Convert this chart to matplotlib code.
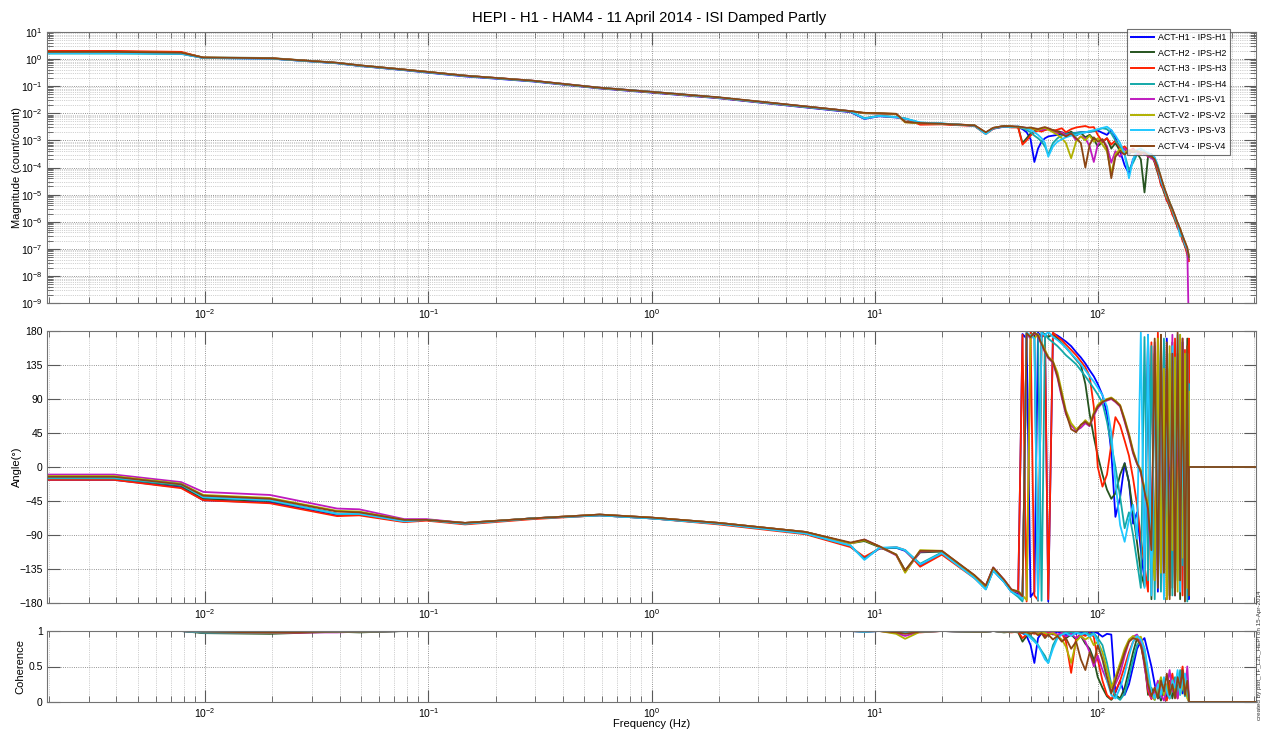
import matplotlib
matplotlib.use("Agg")
import matplotlib.pyplot as plt
from matplotlib.ticker import LogLocator, NullFormatter

plt.rcParams['font.family'] = ['Liberation Sans', 'DejaVu Sans']

# frequency grids (Hz)
freq_lo = [0.00195, 0.0039, 0.0078, 0.0098, 0.0195, 0.039, 0.049, 0.078, 0.098, 0.146,
           0.293, 0.586, 1.0, 2.0, 4.9, 7.8, 9.0, 10.5, 12.5, 13.7,
           16.0, 20.0, 28.0, 31.5, 34.0, 38.0, 41.0]
freq_hi = [44, 46, 48, 50, 52, 54, 56, 58, 60, 63, 66, 69, 72, 76, 80, 84, 88, 92, 96, 100,
           105, 110, 115, 120, 126, 132, 138, 144, 150, 156, 162, 168, 174, 180, 186, 192,
           198, 204, 210, 216, 222, 228, 234, 240, 246, 252, 256]
freq_tail = [256.5, 512]
phase_tail = [0, 0]
coh_tail = [0, 0]

labels = ["ACT-H1 - IPS-H1", "ACT-H2 - IPS-H2", "ACT-H3 - IPS-H3", "ACT-H4 - IPS-H4",
          "ACT-V1 - IPS-V1", "ACT-V2 - IPS-V2", "ACT-V3 - IPS-V3", "ACT-V4 - IPS-V4"]
colors = ['#0000ff', '#26541f', '#ff2000', '#13a8a8', '#bf1abf', '#b0b000', '#20c8ff', '#8b4513']

# ---- magnitude (count/count)
mag_h1_lo = [1.7, 1.7, 1.6, 1.1, 1.05, 0.70, 0.56, 0.39, 0.32, 0.23, 0.15, 0.083, 0.058, 0.036,
             0.0165, 0.011, 0.0062, 0.0078, 0.0070, 0.0063, 0.0044, 0.0041, 0.0035, 0.0018, 0.0027, 0.0032, 0.0031]
mag_h2_lo = [1.9, 1.9, 1.75, 1.15, 1.1, 0.73, 0.59, 0.41, 0.34, 0.245, 0.158, 0.087, 0.061, 0.038,
             0.0178, 0.012, 0.0100, 0.0098, 0.0092, 0.0050, 0.0042, 0.0040, 0.0036, 0.0019, 0.0028, 0.0034, 0.0033]
mag_h3_lo = [2.0, 2.0, 1.85, 1.12, 1.08, 0.72, 0.57, 0.40, 0.33, 0.24, 0.155, 0.085, 0.060, 0.037,
             0.017, 0.0115, 0.0065, 0.0080, 0.0072, 0.0064, 0.0038, 0.0039, 0.0034, 0.0017, 0.0027, 0.0033, 0.0030]
mag_h4_lo = [1.6, 1.6, 1.55, 1.1, 1.05, 0.71, 0.57, 0.40, 0.33, 0.24, 0.156, 0.086, 0.061, 0.038,
             0.0172, 0.0116, 0.0066, 0.0081, 0.0073, 0.0065, 0.0045, 0.0042, 0.0035, 0.0018, 0.0028, 0.0033, 0.0031]
mag_v1_lo = [1.75, 1.75, 1.65, 1.12, 1.06, 0.72, 0.58, 0.41, 0.34, 0.245, 0.16, 0.088, 0.062, 0.038,
             0.0178, 0.012, 0.0102, 0.0099, 0.0094, 0.0047, 0.0043, 0.0041, 0.0036, 0.0019, 0.0029, 0.0034, 0.0033]
mag_v2_lo = [1.8, 1.8, 1.7, 1.13, 1.07, 0.72, 0.58, 0.41, 0.34, 0.245, 0.158, 0.087, 0.061, 0.038,
             0.0176, 0.0119, 0.0103, 0.0100, 0.0095, 0.0046, 0.0043, 0.0041, 0.0036, 0.0019, 0.0029, 0.0034, 0.0033]
mag_v3_lo = [1.65, 1.65, 1.6, 1.1, 1.05, 0.71, 0.57, 0.40, 0.33, 0.24, 0.156, 0.087, 0.062, 0.038,
             0.0174, 0.0117, 0.0064, 0.0080, 0.0072, 0.0064, 0.0046, 0.0042, 0.0035, 0.0017, 0.0028, 0.0033, 0.0031]
mag_v4_lo = [1.85, 1.85, 1.72, 1.14, 1.08, 0.73, 0.59, 0.41, 0.34, 0.245, 0.16, 0.088, 0.062, 0.039,
             0.018, 0.012, 0.0104, 0.0101, 0.0096, 0.0048, 0.0044, 0.0041, 0.0036, 0.002, 0.0029, 0.0034, 0.0033]

mag_h1_hi = [3.1e-3, 2.6e-3, 2.0e-3, 1.1e-3, 1.6e-4, 5e-4, 9e-4, 1.2e-3, 1.4e-3, 1.5e-3, 1.6e-3, 1.7e-3,
             1.8e-3, 1.9e-3, 1.9e-3, 2.0e-3, 2.0e-3, 2.1e-3, 2.2e-3, 2.3e-3, 1.9e-3, 1.6e-3, 2.4e-3, 1.3e-3,
             4e-4, 1.2e-4, 6e-5, 2e-4, 3.5e-4, 4e-4, 3e-4, 3.2e-4, 2.5e-4, 2.2e-4, 8e-5, 2.5e-5, 1.5e-5,
             6e-6, 4.5e-6, 2e-6, 1.5e-6, 6e-7, 4.5e-7, 2.2e-7, 1.5e-7, 7e-8, 5e-8]
mag_h2_hi = [3.0e-3, 8e-4, 1.2e-3, 1.8e-3, 2.2e-3, 2.4e-3, 2.3e-3, 2.5e-3, 2.6e-3, 2.4e-3, 2.2e-3, 2.0e-3,
             1.7e-3, 2.1e-3, 1.5e-3, 1.9e-3, 1.3e-3, 1.6e-3, 1.1e-3, 6e-4, 9e-4, 1.2e-3, 5e-4, 8e-4,
             4e-4, 5e-4, 3e-4, 4.5e-4, 3.5e-4, 2e-4, 1.2e-5, 2.5e-4, 3e-4, 1.5e-4, 6e-5, 3e-5, 1.2e-5,
             7e-6, 3.5e-6, 2.2e-6, 1.1e-6, 7e-7, 3.8e-7, 2.5e-7, 1.2e-7, 8e-8, 4e-8]
mag_h3_hi = [3.0e-3, 7e-4, 1.0e-3, 1.5e-3, 2.0e-3, 2.3e-3, 2.1e-3, 2.4e-3, 2.6e-3, 2.2e-3, 2.5e-3, 2.8e-3,
             2.0e-3, 2.6e-3, 3.0e-3, 3.2e-3, 3.4e-3, 3.0e-3, 3.1e-3, 1.6e-3, 9e-4, 1.2e-3, 7e-4, 1.0e-3,
             5e-4, 6e-4, 4e-4, 5e-4, 3.5e-4, 3e-4, 4e-4, 2.5e-4, 3.2e-4, 1.6e-4, 7e-5, 2.2e-5, 1.4e-5,
             6e-6, 4e-6, 1.8e-6, 1.2e-6, 6e-7, 4e-7, 2e-7, 1.3e-7, 6e-8, 3.5e-8]
mag_h4_hi = [3.2e-3, 2.8e-3, 2.4e-3, 2.0e-3, 1.5e-3, 1.2e-3, 9e-4, 6e-4, 3e-4, 8e-4, 1.2e-3, 1.5e-3,
             1.7e-3, 1.8e-3, 1.9e-3, 2.0e-3, 2.0e-3, 2.1e-3, 2.2e-3, 2.5e-3, 2.8e-3, 2.6e-3, 1.8e-3, 1.0e-3,
             6e-4, 3e-4, 8e-5, 1.5e-4, 3e-4, 4e-4, 3.5e-4, 2.8e-4, 3e-4, 2e-4, 9e-5, 3e-5, 1.6e-5,
             8e-6, 4.5e-6, 2.5e-6, 1.3e-6, 8e-7, 4.5e-7, 2.6e-7, 1.4e-7, 9e-8, 5e-8]
mag_v1_hi = [3.2e-3, 3.0e-3, 2.9e-3, 2.7e-3, 2.6e-3, 2.5e-3, 2.4e-3, 2.6e-3, 2.8e-3, 2.2e-3, 1.8e-3, 2.0e-3,
             1.5e-3, 1.8e-3, 1.0e-3, 1.4e-3, 1.2e-3, 6e-4, 1.6e-4, 7e-4, 1.1e-3, 6e-4, 1.5e-4, 4e-4,
             2.5e-4, 5e-4, 3.5e-4, 4.5e-4, 3e-4, 3.8e-4, 3.2e-4, 2.6e-4, 2.2e-4, 1.8e-4, 1e-4, 3.5e-5, 1.8e-5,
             9e-6, 5e-6, 2.8e-6, 1.5e-6, 9e-7, 5e-7, 3e-7, 1.6e-7, 9e-8, 1e-10]
mag_v2_hi = [3.1e-3, 2.9e-3, 2.7e-3, 2.8e-3, 2.6e-3, 2.4e-3, 2.7e-3, 2.9e-3, 2.5e-3, 2.0e-3, 1.6e-3, 1.2e-3,
             8e-4, 2.2e-4, 9e-4, 1.4e-3, 1.0e-3, 1.5e-3, 9e-4, 1.2e-3, 7e-4, 4e-4, 6e-5, 3e-4,
             5e-4, 3.5e-4, 4.5e-4, 3.8e-4, 4.2e-4, 3.5e-4, 3.8e-4, 3e-4, 2.5e-4, 2.2e-4, 1.1e-4, 4e-5, 2e-5,
             8e-6, 5.5e-6, 2.6e-6, 1.6e-6, 8e-7, 5.5e-7, 2.8e-7, 1.8e-7, 1e-7, 6e-8]
mag_v3_hi = [3.3e-3, 3.0e-3, 2.7e-3, 2.4e-3, 2.0e-3, 1.6e-3, 1.2e-3, 8e-4, 2.5e-4, 6e-4, 9e-4, 1.1e-3,
             1.3e-3, 1.5e-3, 1.6e-3, 1.8e-3, 2.0e-3, 2.2e-3, 2.4e-3, 2.6e-3, 2.9e-3, 3.2e-3, 2.4e-3, 1.5e-3,
             8e-4, 3e-4, 4e-5, 2e-4, 4.5e-4, 5e-4, 4e-4, 3.5e-4, 3e-4, 2.4e-4, 1.2e-4, 3.5e-5, 1.7e-5,
             9e-6, 5e-6, 3e-6, 1.4e-6, 9e-7, 3e-7, 3.2e-7, 1.5e-7, 1e-7, 5e-8]
mag_v4_hi = [3.2e-3, 3.1e-3, 2.9e-3, 3.0e-3, 2.8e-3, 2.6e-3, 2.9e-3, 3.1e-3, 2.8e-3, 2.4e-3, 2.1e-3, 1.7e-3,
             1.4e-3, 1.8e-3, 1.2e-3, 8e-4, 1.0e-4, 7e-4, 1.3e-3, 9e-4, 1.1e-3, 5e-4, 4e-5, 2.5e-4,
             4e-4, 3e-4, 4.2e-4, 3.6e-4, 4e-4, 3.4e-4, 3.6e-4, 2.8e-4, 2.6e-4, 2e-4, 1e-4, 4.5e-5, 1.9e-5,
             1e-5, 5e-6, 3e-6, 1.7e-6, 9e-7, 5.5e-7, 3e-7, 1.8e-7, 1.1e-7, 5e-8]

# ---- phase (deg)
ph_h1_lo = [-17, -17, -27, -44, -47, -64, -63, -72, -70, -75, -68, -64, -68, -75, -88, -105, -121, -108,
            -107, -111, -130, -114, -146, -160, -137, -152, -165]
ph_h2_lo = [-15, -15, -25, -42, -45, -62, -62, -71, -70, -74, -68, -63, -67, -74, -86, -101, -98, -106,
            -116, -137, -113, -112, -144, -158, -134, -150, -163]
ph_h3_lo = [-17, -17, -28, -44, -48, -65, -64, -73, -71, -76, -69, -64, -68, -76, -89, -106, -119, -108,
            -106, -110, -132, -116, -147, -161, -136, -151, -164]
ph_h4_lo = [-15, -15, -24, -40, -44, -62, -62, -71, -70, -75, -68, -64, -68, -75, -88, -104, -122, -107,
            -107, -110, -128, -113, -146, -162, -137, -152, -165]
ph_v1_lo = [-10, -10, -20, -33, -37, -55, -56, -69, -69, -74, -68, -63, -67, -74, -86, -101, -96, -105,
            -117, -139, -112, -111, -144, -157, -133, -149, -162]
ph_v2_lo = [-12, -12, -22, -37, -41, -58, -59, -70, -70, -74, -68, -63, -67, -74, -86, -101, -97, -105,
            -116, -140, -110, -111, -144, -158, -134, -150, -163]
ph_v3_lo = [-14, -14, -23, -40, -44, -62, -62, -72, -70, -75, -68, -64, -68, -75, -88, -104, -123, -107,
            -106, -110, -129, -114, -147, -162, -137, -152, -165]
ph_v4_lo = [-13, -13, -23, -38, -42, -59, -60, -70, -70, -74, -68, -63, -67, -74, -86, -100, -96, -105,
            -116, -137, -111, -111, -143, -157, -133, -149, -162]

ph_h1_hi = [-168, 176, 170, -172, -165, 178, 172, 176, -178, 177, 174, 170, 166, 160, 152, 145, 137, 128,
            120, 110, 95, 70, 20, -66, -40, 5, -20, -75, -60, -110, -150, 175, -130, 160, -165, 110,
            -150, 170, -90, 140, -170, 80, -120, 165, -140, 120, -175]
ph_h2_hi = [-170, -176, 178, 172, 176, -177, 179, 175, 172, 176, 170, 164, 158, 150, 142, 135, 110, 70,
            40, 15, -10, -30, -42, -35, -10, 5, -20, -60, -100, -140, -158, 170, -175, 150, -120, 175,
            -160, 100, -170, 165, -100, 150, -175, 60, -140, 170, -165]
ph_h3_hi = [-165, 175, -178, 178, -170, -176, 176, 172, -175, 178, 172, 168, 162, 155, 148, 140, 132, 120,
            80, 0, -26, -10, 30, 66, 55, 35, 15, -15, -50, -95, -130, -165, 165, -150, 178, -120,
            150, -175, 130, -160, 170, -80, 120, -170, 155, -130, 170]
ph_h4_hi = [-172, -178, 177, 173, 178, 174, -177, 176, 170, 165, 160, 154, 148, 142, 136, 128, 120, 112,
            104, 96, 85, 60, 30, 0, -40, -81, -60, -90, -125, -160, 172, -150, 160, -175, 120, -165,
            170, -110, 150, -170, 90, -150, 175, -130, 140, -178, 110]
ph_v1_hi = [-166, -172, 176, 170, 177, 172, 162, 152, 144, 138, 118, 92, 70, 55, 48, 52, 58, 54,
            68, 78, 85, 88, 90, 86, 80, 60, 40, 18, 4, -8, -35, -60, -120, 165, -150, 150,
            -170, 120, -130, 175, -160, 140, -100, 170, -175, 130, -140]
ph_v2_hi = [-164, -170, -176, 175, 170, 176, 165, 155, 146, 140, 125, 100, 75, 58, 50, 55, 62, 56,
            72, 82, 88, 90, 92, 88, 82, 64, 44, 22, 6, -4, -28, -50, -100, -150, 170, -140,
            130, -175, 160, -110, 145, -165, 175, -120, 150, -160, 100]
ph_v3_hi = [-170, -175, 178, 174, 170, -176, 178, 174, 179, 172, 168, 163, 158, 150, 143, 136, 128, 120,
            113, 105, 95, 80, 45, -20, -77, -99, -70, -50, -95, 178, -160, 175, -170, 140, -130, 170,
            -175, 100, -150, 160, -120, 175, -165, 90, -178, 150, -120]
ph_v4_hi = [-165, -171, 177, 172, 178, 174, 163, 153, 145, 139, 120, 95, 72, 50, 46, 56, 60, 55,
            70, 80, 86, 89, 91, 87, 81, 62, 42, 20, 5, -6, -32, -55, -110, 170, -160, 175,
            -140, 165, -175, 150, -170, 178, -150, 170, -178, 160, -170]

# ---- coherence
coh_h1_lo = [1, 1, 1, 0.98, 0.98, 0.99, 0.99, 1, 1, 1, 1, 1, 1, 1, 1, 1, 0.99, 1, 1, 0.99, 0.99, 1, 0.99, 0.99, 1, 0.99, 0.99]
coh_h2_lo = [1, 1, 1, 0.97, 0.96, 0.99, 0.98, 1, 1, 1, 1, 1, 1, 1, 1, 1, 1, 1, 0.99, 0.97, 1, 1, 0.99, 0.99, 1, 0.98, 0.99]
coh_h3_lo = [1, 1, 1, 0.98, 0.97, 0.99, 0.99, 1, 1, 1, 1, 1, 1, 1, 1, 1, 0.99, 1, 1, 0.99, 0.98, 1, 0.99, 0.99, 1, 0.99, 0.98]
coh_h4_lo = [1, 1, 1, 0.98, 0.98, 0.99, 0.99, 1, 1, 1, 1, 1, 1, 1, 1, 1, 0.99, 1, 1, 0.99, 0.99, 1, 0.99, 0.99, 1, 0.99, 0.99]
coh_v1_lo = [1, 1, 1, 0.99, 0.98, 0.98, 0.99, 1, 1, 1, 1, 1, 1, 1, 1, 1, 1, 1, 0.97, 0.93, 0.99, 1, 0.99, 0.99, 1, 0.99, 0.99]
coh_v2_lo = [1, 1, 1, 0.99, 0.98, 0.99, 0.99, 1, 1, 1, 1, 1, 1, 1, 1, 1, 1, 1, 0.96, 0.89, 0.99, 1, 0.99, 0.99, 1, 0.99, 0.99]
coh_v3_lo = [1, 1, 1, 0.98, 0.98, 0.99, 0.99, 1, 1, 1, 1, 1, 1, 1, 1, 1, 0.99, 1, 1, 0.99, 0.99, 1, 0.99, 0.99, 1, 0.99, 0.99]
coh_v4_lo = [1, 1, 1, 0.99, 0.98, 0.99, 0.99, 1, 1, 1, 1, 1, 1, 1, 1, 1, 1, 1, 0.98, 0.96, 0.99, 1, 0.99, 0.99, 1, 0.99, 0.99]

coh_h1_hi = [0.99, 0.97, 0.93, 0.8, 0.55, 0.9, 0.97, 0.93, 0.98, 0.95, 0.99, 0.97, 0.94, 0.98, 0.96, 0.99,
             0.95, 0.98, 0.99, 0.97, 0.92, 0.96, 0.95, 0.13, 0.3, 0.1, 0.25, 0.5, 0.75, 0.85, 0.9, 0.7,
             0.5, 0.25, 0.05, 0.12, 0.22, 0.05, 0.15, 0.3, 0.08, 0.2, 0.38, 0.12, 0.3, 0.18, 0.02]
coh_h2_hi = [0.98, 0.85, 0.93, 0.97, 0.99, 0.96, 0.99, 0.97, 0.95, 0.98, 0.93, 0.97, 0.9, 0.95, 0.88, 0.93,
             0.82, 0.75, 0.6, 0.35, 0.2, 0.08, 0.03, 0.1, 0.05, 0.2, 0.45, 0.7, 0.9, 0.85, 0.6, 0.1,
             0.2, 0.05, 0.15, 0.02, 0.2, 0.1, 0.3, 0.05, 0.25, 0.12, 0.4, 0.2, 0.35, 0.1, 0.0]
coh_h3_hi = [0.99, 0.9, 0.95, 0.98, 0.96, 0.99, 0.97, 0.94, 0.98, 0.96, 0.93, 0.97, 0.85, 0.41, 0.9, 0.96,
             0.93, 0.97, 0.92, 0.6, 0.3, 0.1, 0.04, 0.15, 0.3, 0.5, 0.7, 0.85, 0.92, 0.8, 0.55, 0.15,
             0.04, 0.2, 0.08, 0.3, 0.1, 0.02, 0.25, 0.4, 0.15, 0.05, 0.3, 0.5, 0.2, 0.1, 0.03]
coh_h4_hi = [0.99, 0.98, 0.96, 0.93, 0.88, 0.8, 0.72, 0.65, 0.55, 0.8, 0.92, 0.96, 0.98, 0.97, 0.99, 0.96,
             0.98, 0.95, 0.97, 0.9, 0.8, 0.55, 0.25, 0.08, 0.03, 0.12, 0.35, 0.6, 0.8, 0.88, 0.7, 0.4,
             0.1, 0.03, 0.18, 0.06, 0.25, 0.12, 0.05, 0.2, 0.35, 0.1, 0.45, 0.25, 0.08, 0.3, 0.05]
coh_v1_hi = [0.99, 0.98, 0.99, 0.97, 0.98, 0.99, 0.97, 0.98, 0.96, 0.98, 0.95, 0.97, 0.92, 0.96, 0.9, 0.94,
             0.85, 0.7, 0.5, 0.65, 0.45, 0.3, 0.15, 0.25, 0.4, 0.65, 0.85, 0.92, 0.95, 0.85, 0.5, 0.2,
             0.05, 0.15, 0.3, 0.1, 0.02, 0.2, 0.45, 0.15, 0.3, 0.05, 0.25, 0.4, 0.15, 0.5, 0.1]
coh_v2_hi = [0.99, 0.98, 0.97, 0.99, 0.98, 0.96, 0.99, 0.97, 0.95, 0.97, 0.93, 0.88, 0.78, 0.55, 0.85, 0.93,
             0.88, 0.92, 0.8, 0.85, 0.7, 0.45, 0.2, 0.35, 0.55, 0.75, 0.88, 0.93, 0.9, 0.92, 0.75, 0.4,
             0.1, 0.03, 0.2, 0.35, 0.1, 0.25, 0.05, 0.3, 0.15, 0.4, 0.1, 0.2, 0.35, 0.05, 0.02]
coh_v3_hi = [0.99, 0.97, 0.95, 0.9, 0.85, 0.8, 0.7, 0.6, 0.55, 0.75, 0.9, 0.95, 0.97, 0.93, 0.98, 0.95,
             0.97, 0.92, 0.96, 0.85, 0.6, 0.3, 0.1, 0.05, 0.2, 0.4, 0.65, 0.85, 0.93, 0.88, 0.75, 0.45,
             0.15, 0.05, 0.25, 0.1, 0.35, 0.15, 0.05, 0.3, 0.2, 0.45, 0.1, 0.3, 0.4, 0.15, 0.05]
coh_v4_hi = [0.99, 0.97, 0.99, 0.96, 0.98, 0.94, 0.97, 0.9, 0.95, 0.88, 0.93, 0.85, 0.9, 0.75, 0.85, 0.6,
             0.45, 0.7, 0.55, 0.8, 0.6, 0.35, 0.12, 0.3, 0.5, 0.7, 0.85, 0.9, 0.88, 0.8, 0.55, 0.25,
             0.08, 0.2, 0.05, 0.3, 0.15, 0.4, 0.1, 0.25, 0.05, 0.35, 0.2, 0.45, 0.1, 0.3, 0.05]

mags = [(mag_h1_lo, mag_h1_hi), (mag_h2_lo, mag_h2_hi), (mag_h3_lo, mag_h3_hi), (mag_h4_lo, mag_h4_hi),
        (mag_v1_lo, mag_v1_hi), (mag_v2_lo, mag_v2_hi), (mag_v3_lo, mag_v3_hi), (mag_v4_lo, mag_v4_hi)]
phases = [(ph_h1_lo, ph_h1_hi), (ph_h2_lo, ph_h2_hi), (ph_h3_lo, ph_h3_hi), (ph_h4_lo, ph_h4_hi),
          (ph_v1_lo, ph_v1_hi), (ph_v2_lo, ph_v2_hi), (ph_v3_lo, ph_v3_hi), (ph_v4_lo, ph_v4_hi)]
cohs = [(coh_h1_lo, coh_h1_hi), (coh_h2_lo, coh_h2_hi), (coh_h3_lo, coh_h3_hi), (coh_h4_lo, coh_h4_hi),
        (coh_v1_lo, coh_v1_hi), (coh_v2_lo, coh_v2_hi), (coh_v3_lo, coh_v3_hi), (coh_v4_lo, coh_v4_hi)]

W, H = 1263, 734
fig = plt.figure(figsize=(W / 100, H / 100), dpi=100)
left, right = 47, 1256
ax1 = fig.add_axes([left / W, 1 - 303 / H, (right - left) / W, (303 - 32) / H])
ax2 = fig.add_axes([left / W, 1 - 603 / H, (right - left) / W, (603 - 331) / H])
ax3 = fig.add_axes([left / W, 1 - 702 / H, (right - left) / W, (702 - 631) / H])

f_all = freq_lo + freq_hi
f_full = freq_lo + freq_hi + freq_tail
lw = 1.3
for i in range(8):
    ax1.plot(f_all, mags[i][0] + mags[i][1], color=colors[i], lw=lw, label=labels[i])
    ax2.plot(f_full, phases[i][0] + phases[i][1] + phase_tail, color=colors[i], lw=lw)
    ax3.plot(f_full, cohs[i][0] + cohs[i][1] + coh_tail, color=colors[i], lw=lw)

for ax in (ax1, ax2, ax3):
    ax.set_xscale('log')
    ax.set_xlim(1 / 512, 512)
    ax.xaxis.set_major_locator(LogLocator(base=10, numticks=20))
    ax.xaxis.set_minor_locator(LogLocator(base=10, subs=range(2, 10), numticks=100))
    ax.xaxis.set_minor_formatter(NullFormatter())
    ax.tick_params(which='both', direction='in', top=True, right=True, colors='0.35',
                   labelcolor='black', labelsize=7.5)
    ax.tick_params(which='major', length=9, width=0.8)
    ax.tick_params(which='minor', length=4.5, width=0.6)
    ax.tick_params(axis='x', pad=3)
    ax.tick_params(axis='y', pad=3)
    ax.grid(True, which='major', ls=':', color='0.45', lw=0.6)
    ax.grid(True, which='minor', axis='x', ls=':', color='0.65', lw=0.5)
    for s in ax.spines.values():
        s.set_color('0.45')
        s.set_linewidth(0.8)

ax1.set_yscale('log')
ax1.set_ylim(1e-9, 10)
ax1.set_yticks([1e-9, 1e-8, 1e-7, 1e-6, 1e-5, 1e-4, 1e-3, 1e-2, 1e-1, 1, 10])
ax1.yaxis.set_minor_locator(LogLocator(base=10, subs=range(2, 10), numticks=100))
ax1.yaxis.set_minor_formatter(NullFormatter())
ax1.grid(True, which='minor', axis='y', ls=':', color='0.65', lw=0.5)

ax2.set_ylim(-180, 180)
ax2.set_yticks([-180, -135, -90, -45, 0, 45, 90, 135, 180])

ax3.set_ylim(0, 1)
ax3.set_yticks([0, 0.5, 1])
ax3.set_yticklabels(['0', '0.5', '1'])

ax1.set_ylabel('Magnitude (count/count)', fontsize=8)
ax2.set_ylabel('Angle(°)', fontsize=8)
ax3.set_ylabel('Coherence', fontsize=8)
ax1.yaxis.set_label_coords(-0.021, 0.5)
ax2.yaxis.set_label_coords(-0.021, 0.5)
ax3.yaxis.set_label_coords(-0.018, 0.5)
ax3.set_xlabel('Frequency (Hz)', fontsize=8)
ax3.xaxis.set_label_coords(0.5, -0.24)

fig.text(649 / W, 1 - 18 / H, 'HEPI - H1 - HAM4 - 11 April 2014 - ISI Damped Partly',
         ha='center', va='center', fontsize=10.7)
fig.text(1259 / W, 1 - 655 / H, 'created by plot_TF_L2L_HEPI on 15-Apr-2014',
         rotation=90, ha='center', va='center', fontsize=4.5, color='0.2')

leg = ax1.legend(loc='upper right', bbox_to_anchor=((1230 - left) / (right - left), (303 - 29) / 271),
                 borderaxespad=0, fontsize=6.4, frameon=True, fancybox=False, handlelength=2.5,
                 handletextpad=0.45, labelspacing=0.74, borderpad=0.45)
leg.get_frame().set_edgecolor('0.3')
leg.get_frame().set_linewidth(0.8)
for ln in leg.get_lines():
    ln.set_linewidth(1.4)

fig.savefig('out.png', dpi=100)
